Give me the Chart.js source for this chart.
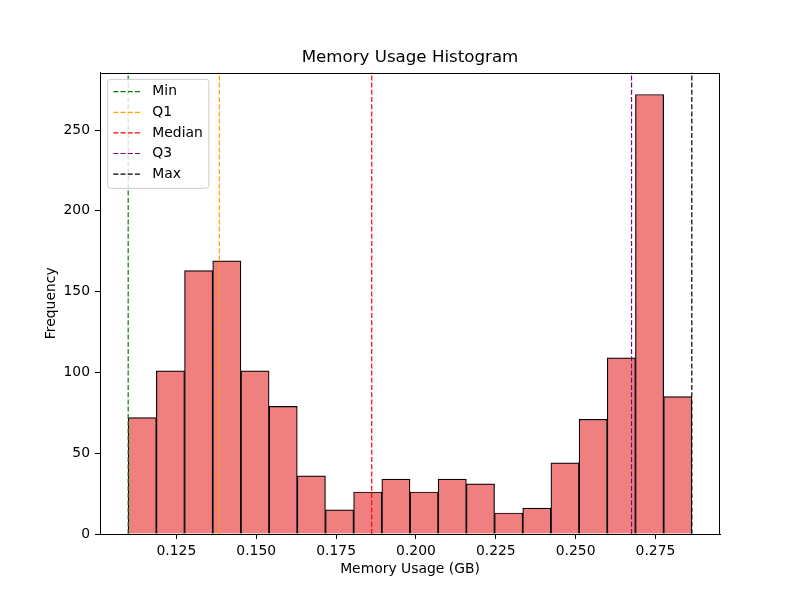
<!DOCTYPE html>
<html>
<head>
<meta charset="utf-8">
<title>Memory Usage Histogram</title>
<script src="https://cdn.jsdelivr.net/npm/chart.js@4/dist/chart.umd.min.js"></script>
<style>
  html, body { margin: 0; padding: 0; background: #fff; }
</style>
</head>
<body>
<canvas id="myChart" width="800" height="600"></canvas>
<script>
// histogram bins (GB) and counts
const binStart = 0.10991;
const binEnd = 0.28637;
const counts = [72, 101, 163, 169, 101, 79, 36, 15, 26, 34, 26, 34, 31, 13, 16, 44, 71, 109, 272, 85];

// summary statistics shown as dashed vertical lines
const statLabels = ["Min", "Q1", "Median", "Q3", "Max"];
const statValues = [0.10991, 0.13844, 0.18616, 0.2675, 0.28637];
const statColors = ["#008000", "#ffa500", "#ff0000", "#800080", "#000000"];

const xTicks = [0.125, 0.150, 0.175, 0.200, 0.225, 0.250, 0.275];
const yTicks = [0, 50, 100, 150, 200, 250];

const binWidth = (binEnd - binStart) / counts.length;
const barData = counts.map((c, i) => ({x: binStart + (i + 0.5) * binWidth, y: c}));
const yMax = Math.max(...counts) * 1.05;
const xPad = (binEnd - binStart) * 0.05;

Chart.defaults.font.family = "'DejaVu Sans', sans-serif";
Chart.defaults.font.size = 13.9;
Chart.defaults.color = "#000";

const statDatasets = statLabels.map((label, i) => ({
  type: "line",
  label: label,
  data: [{x: statValues[i], y: 0}, {x: statValues[i], y: yMax}],
  borderColor: statColors[i],
  borderWidth: 1.2,
  borderDash: [5, 2.2],
  pointRadius: 0,
  fill: false,
  order: 0
}));

// title centred over the axes, like matplotlib
const centerTitle = {
  id: "centerTitle",
  afterLayout(chart) {
    const t = chart.titleBlock;
    if (t) {
      t.left = chart.chartArea.left;
      t.right = chart.chartArea.right;
      t.width = t.right - t.left;
    }
  }
};

// matplotlib style frame + legend box in the upper left
const frameAndLegend = {
  id: "frameAndLegend",
  afterDraw(chart) {
    const {ctx, chartArea: a} = chart;
    ctx.save();
    ctx.strokeStyle = "#000";
    ctx.lineWidth = 1;
    ctx.strokeRect(Math.round(a.left) + 0.5, Math.round(a.top) + 0.5,
      Math.round(a.right - a.left) - 1, Math.round(a.bottom - a.top));

    ctx.font = "13.9px 'DejaVu Sans', sans-serif";
    const boxX = a.left + 7.7, boxY = a.top + 6.8;
    const textX = boxX + 44.6;
    const rowH = 20.6;
    const maxW = Math.max(...statLabels.map(t => ctx.measureText(t).width));
    const boxW = textX + maxW + 6 - boxX;
    const boxH = rowH * statLabels.length + 6;
    ctx.beginPath();
    ctx.roundRect(boxX, boxY, boxW, boxH, 3);
    ctx.fillStyle = "rgba(255,255,255,0.8)";
    ctx.fill();
    ctx.strokeStyle = "#cccccc";
    ctx.stroke();

    ctx.textBaseline = "middle";
    ctx.textAlign = "left";
    statDatasets.forEach((ds, i) => {
      const y = boxY + 12.4 + i * rowH;
      ctx.beginPath();
      ctx.setLineDash(ds.borderDash);
      ctx.strokeStyle = ds.borderColor;
      ctx.lineWidth = ds.borderWidth;
      ctx.moveTo(boxX + 5.6, y);
      ctx.lineTo(boxX + 33.4, y);
      ctx.stroke();
      ctx.setLineDash([]);
      ctx.fillStyle = "#000";
      ctx.fillText(ds.label, textX, y);
    });
    ctx.restore();
  }
};

const chart = new Chart("myChart", {
  type: "bar",
  data: {
    datasets: [
      ...statDatasets,
      {
        label: "Memory Usage",
        data: barData,
        backgroundColor: "#f08080",
        borderColor: "#000",
        borderWidth: 1.2,
        barPercentage: 1,
        categoryPercentage: 1,
        order: 1
      }
    ]
  },
  options: {
    responsive: false,
    animation: false,
    devicePixelRatio: 1,
    layout: {padding: {left: 0, right: 80, top: 0, bottom: 0}},
    plugins: {
      legend: {display: false},
      tooltip: {enabled: false},
      title: {
        display: true,
        text: "Memory Usage Histogram",
        font: {size: 16.67, weight: "normal"},
        color: "#000",
        padding: {top: 48, bottom: 4.5}
      }
    },
    scales: {
      x: {
        type: "linear",
        min: binStart - xPad,
        max: binEnd + xPad,
        offset: false,
        grid: {offset: false, drawOnChartArea: false, tickLength: 5, color: "#000"},
        border: {display: true, color: "#000"},
        ticks: {
          stepSize: 0.025,
          includeBounds: false,
          padding: 4,
          maxRotation: 0,
          autoSkip: false,
          callback: v => xTicks.some(t => Math.abs(t - v) < 1e-6) ? v.toFixed(3) : ""
        },
        title: {display: true, text: "Memory Usage (GB)", padding: {top: 0, bottom: 22.6}},
        afterFit: s => { s.height = 66; }
      },
      y: {
        type: "linear",
        min: 0,
        max: yMax,
        grid: {drawOnChartArea: false, tickLength: 5, color: "#000"},
        border: {display: true, color: "#000"},
        ticks: {
          stepSize: 50,
          includeBounds: false,
          padding: 5,
          callback: v => yTicks.includes(v) ? String(v) : ""
        },
        title: {display: true, text: "Frequency", padding: {top: 43.3, bottom: 0}},
        afterFit: s => { s.width = 100; }
      }
    }
  },
  plugins: [centerTitle, frameAndLegend]
});
</script>
</body>
</html>
